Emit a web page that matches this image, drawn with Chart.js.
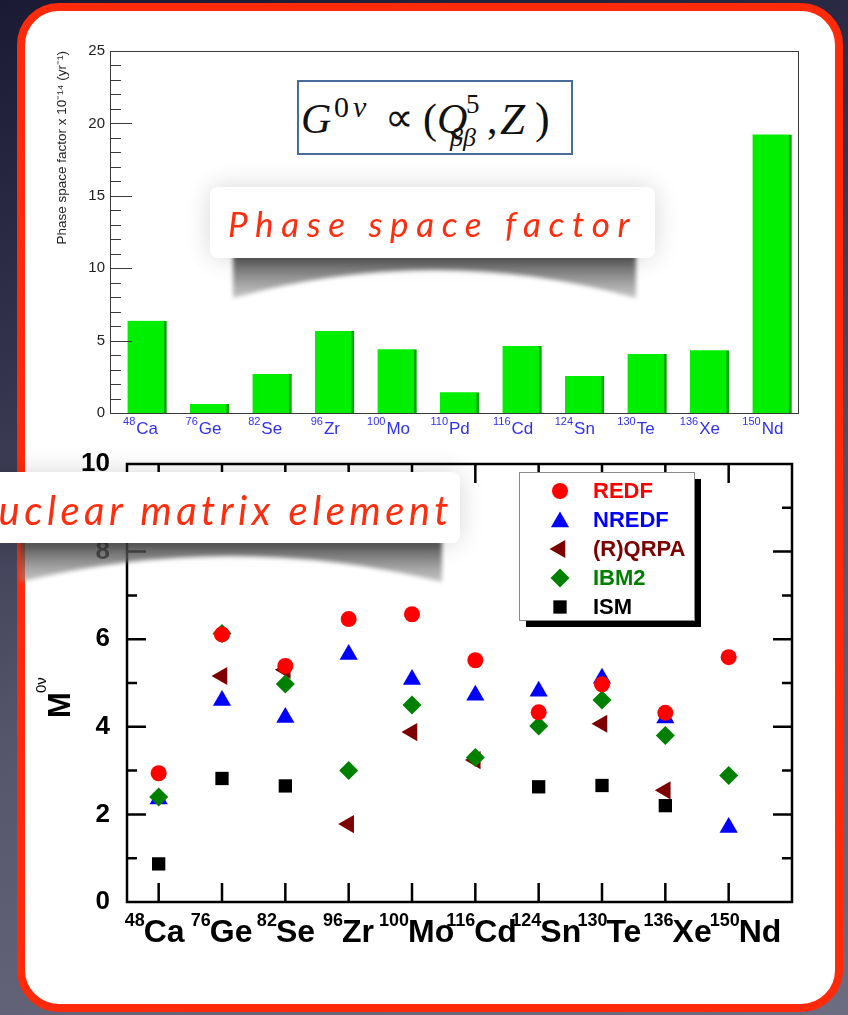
<!DOCTYPE html>
<html>
<head>
<meta charset="utf-8">
<title>Phase space factor and nuclear matrix element</title>
<script src="https://cdn.jsdelivr.net/npm/chart.js@4.4.1/dist/chart.umd.min.js"></script>
<style>
  html, body { margin: 0; padding: 0; }
  body {
    width: 848px; height: 1015px; position: relative; overflow: hidden;
    background: linear-gradient(165deg, #1a1a34 0%, #33334d 30%, #55556b 60%, #6d6d82 100%);
    font-family: "Liberation Sans", Arial, sans-serif;
  }
  .layer { position: absolute; left: 0; top: 0; }
  #frame {
    position: absolute; left: 17px; top: 3px; width: 810px; height: 993px;
    border: 8px solid #ff2a0a; border-radius: 42px; background: #fff;
  }
  #formula {
    position: absolute; left: 297px; top: 80px; width: 276px; height: 75px; box-sizing: border-box;
    border: 2px solid #4a6c9c; background: #fff; z-index: 4;
    font-family: "Liberation Serif", "Times New Roman", serif; color: #111;
  }
  #formula span { position: absolute; line-height: 1; white-space: nowrap; }
  #formula .it { font-style: italic; }
  .hand {
    position: absolute; z-index: 4; white-space: nowrap; line-height: 1;
    font-family: Lato, "Open Sans", sans-serif; font-style: italic; font-weight: 400; color: #ff2d0d;
  }
</style>
</head>
<body>
<div id="frame"></div>
<canvas id="topChart" class="layer" width="848" height="1015" style="z-index:1"></canvas>
<canvas id="nmeChart" class="layer" width="848" height="1015" style="z-index:2"></canvas>
<canvas id="deco" class="layer" width="848" height="1015" style="z-index:3"></canvas>

<div id="formula">
  <span class="it" style="left:2px;top:16px;font-size:42px">G</span>
  <span style="left:35px;top:10px;font-size:30px;letter-spacing:4px">0<i>ν</i></span>
  <span style="left:86px;top:16px;font-size:40px">∝</span>
  <span style="left:124px;top:16px;font-size:42px">(</span>
  <span class="it" style="left:138px;top:16px;font-size:42px">Q</span>
  <span style="left:167px;top:9px;font-size:27px">5</span>
  <span class="it" style="left:151px;top:43px;font-size:26px">ββ</span>
  <span style="left:188px;top:16px;font-size:42px">,</span>
  <span class="it" style="left:201px;top:15px;font-size:45px">Z</span>
  <span style="left:236px;top:15px;font-size:44px">)</span>
</div>

<div class="hand" data-w="409" style="left:228px;top:206px;font-size:35px">Phase space factor</div>
<div class="hand" data-w="487" style="left:-34px;top:490px;font-size:40px">Nuclear matrix element</div>

<script>
// phase space factor (x 10^-14 yr^-1)
const topMass = ['48', '76', '82', '96', '100', '110', '116', '124', '130', '136', '150'];
const topElem = ['Ca', 'Ge', 'Se', 'Zr', 'Mo', 'Pd', 'Cd', 'Sn', 'Te', 'Xe', 'Nd'];
const phaseFactor = [6.37, 0.62, 2.69, 5.66, 4.41, 1.43, 4.62, 2.55, 4.07, 4.34, 19.24];
const phaseTicks = [0, 5, 10, 15, 20, 25];

// nuclear matrix elements M^0v
const nmeMass = ['48', '76', '82', '96', '100', '116', '124', '130', '136', '150'];
const nmeElem = ['Ca', 'Ge', 'Se', 'Zr', 'Mo', 'Cd', 'Sn', 'Te', 'Xe', 'Nd'];
const redf  = [2.94, 6.11, 5.39, 6.46, 6.57, 5.52, 4.33, 4.97, 4.32, 5.59];
const nredf = [2.35, 4.60, 4.21, 5.65, 5.08, 4.72, 4.81, 5.11, 4.20, 1.70];
const qrpa  = [null, 5.16, 5.30, 1.78, 3.88, 3.24, null, 4.07, 2.55, null];
const ibm2  = [2.40, 6.13, 4.98, 3.00, 4.50, 3.30, 4.02, 4.61, 3.80, 2.89];
const ism   = [0.87, 2.82, 2.65, null, null, null, 2.63, 2.66, 2.20, null];

const series = [
  { label: 'REDF',    values: redf,  color: '#ff0000', style: 'circle',   radius: 8,    rotation: 0,   order: 0 },
  { label: 'NREDF',   values: nredf, color: '#0000ff', style: 'triangle', radius: 10.5, rotation: 0,   order: 4 },
  { label: '(R)QRPA', values: qrpa,  color: '#7d0000', style: 'triangle', radius: 10.5, rotation: -90, order: 3 },
  { label: 'IBM2',    values: ibm2,  color: '#008000', style: 'rectRot',  radius: 9.5,  rotation: 0,   order: 1 },
  { label: 'ISM',     values: ism,   color: '#000000', style: 'rect',     radius: 9.4,  rotation: 0,   order: 2 },
];

const SANS = '"Liberation Sans", Arial, sans-serif';

const topFrame = {
  id: 'topFrame',
  afterDraw(chart) {
    const { ctx, chartArea: a, scales } = chart;
    ctx.save();
    ctx.strokeStyle = '#3a3a3a';
    ctx.lineWidth = 1;
    ctx.strokeRect(a.left + 0.5, a.top + 0.5, a.right - a.left, a.bottom - a.top);
    ctx.beginPath();
    for (let v = 0; v <= 25; v++) {
      const py = Math.round(scales.y.getPixelForValue(v)) + 0.5;
      ctx.moveTo(a.left, py);
      ctx.lineTo(a.left + (v % 5 ? 11 : 22), py);
    }
    ctx.stroke();
    ctx.fillStyle = '#3030f0';
    topElem.forEach((el, i) => {
      const cx = scales.xc.getPixelForValue(i);
      ctx.font = '11px ' + SANS;
      ctx.textAlign = 'right';
      ctx.fillText(topMass[i], cx - 6, 425);
      ctx.font = '17px ' + SANS;
      ctx.textAlign = 'left';
      ctx.fillText(el, cx - 5, 434);
    });
    ctx.restore();
  },
};

new Chart(document.getElementById('topChart'), {
  type: 'bar',
  data: {
    labels: topElem,
    datasets: [{
      data: phaseFactor.map((v, i) => ({ x: i, y: v })),
      xAxisID: 'x',
      yAxisID: 'y',
      backgroundColor: '#00ee00',
      borderColor: '#00a800',
      borderWidth: { left: 0, top: 0, right: 3, bottom: 0 },
      borderSkipped: false,
      barThickness: 39,
    }],
  },
  options: {
    responsive: false,
    animation: false,
    devicePixelRatio: 1,
    layout: { padding: { left: 50, right: 50, top: 51, bottom: 602 } },
    plugins: { legend: { display: false }, tooltip: { enabled: false } },
    scales: {
      x: { type: 'linear', min: -0.592, max: 10.416, offset: false, display: false },
      xc: { type: 'category', offset: true, display: false },
      y: {
        min: 0, max: 25,
        afterBuildTicks: (s) => { s.ticks = phaseTicks.map((v) => ({ value: v })); },
        afterFit: (s) => { s.width = 60; },
        grid: { display: false, drawTicks: false },
        border: { display: false },
        ticks: { padding: 5, color: '#222', font: { family: SANS, size: 15 } },
        title: {
          display: true, align: 'end', color: '#222',
          text: 'Phase space factor x 10⁻¹⁴ (yr⁻¹)',
          font: { family: SANS, size: 13.5 },
        },
      },
    },
  },
  plugins: [topFrame],
});

function drawMarker(ctx, s, x, y) {
  const r = s.radius;
  ctx.beginPath();
  if (s.style === 'circle') {
    ctx.arc(x, y, r, 0, Math.PI * 2);
  } else if (s.style === 'triangle') {
    let rad = s.rotation * Math.PI / 180;
    for (let k = 0; k < 3; k++) {
      const px = x + Math.sin(rad) * r, py = y - Math.cos(rad) * r;
      k ? ctx.lineTo(px, py) : ctx.moveTo(px, py);
      rad += 2 * Math.PI / 3;
    }
  } else if (s.style === 'rectRot') {
    ctx.moveTo(x - r, y); ctx.lineTo(x, y - r); ctx.lineTo(x + r, y); ctx.lineTo(x, y + r);
  } else {
    const h = r * Math.SQRT1_2;
    ctx.rect(x - h, y - h, 2 * h, 2 * h);
  }
  ctx.closePath();
  ctx.fillStyle = s.color;
  ctx.fill();
}

const nmeFrame = {
  id: 'nmeFrame',
  afterDraw(chart) {
    const { ctx, chartArea: a, scales: { x, y } } = chart;
    ctx.save();
    ctx.strokeStyle = '#000';
    ctx.lineWidth = 2.5;
    ctx.strokeRect(a.left, a.top, a.right - a.left, a.bottom - a.top);
    ctx.beginPath();
    nmeElem.forEach((el, i) => {
      const px = x.getPixelForValue(i);
      ctx.moveTo(px, a.bottom); ctx.lineTo(px, a.bottom - 19);
      ctx.moveTo(px, a.top); ctx.lineTo(px, a.top + 19);
    });
    for (let v = 1; v < 10; v++) {
      const py = y.getPixelForValue(v);
      const len = v % 2 ? 10 : 19;
      ctx.moveTo(a.left, py); ctx.lineTo(a.left + len, py);
      ctx.moveTo(a.right, py); ctx.lineTo(a.right - len, py);
    }
    ctx.stroke();

    // isotope labels
    const x0 = x.getPixelForValue(0) - 15;
    const x9 = x.getPixelForValue(nmeElem.length - 1) + 10;
    ctx.fillStyle = '#000';
    nmeElem.forEach((el, i) => {
      const lx = x0 + (x9 - x0) * i / (nmeElem.length - 1);
      ctx.font = 'bold 18px ' + SANS;
      ctx.textAlign = 'right';
      ctx.fillText(nmeMass[i], lx + 1, 926);
      ctx.font = 'bold 32px ' + SANS;
      ctx.textAlign = 'left';
      ctx.fillText(el, lx, 942);
    });

    // y title M^0v
    ctx.save();
    ctx.translate(58, 706);
    ctx.rotate(-Math.PI / 2);
    ctx.textAlign = 'left';
    ctx.font = 'bold 31px ' + SANS;
    ctx.fillText('M', -12, 12);
    ctx.font = '15px ' + SANS;
    ctx.fillText('0ν', 13, -12);
    ctx.restore();

    // legend
    const lx = 519, ly = 472, lw = 175, lh = 148;
    ctx.fillStyle = '#000';
    ctx.fillRect(lx + 7, ly + 7, lw, lh);
    ctx.fillStyle = '#fff';
    ctx.fillRect(lx, ly, lw, lh);
    ctx.strokeStyle = '#8a8a8a';
    ctx.lineWidth = 1;
    ctx.strokeRect(lx + 0.5, ly + 0.5, lw, lh);
    ctx.font = 'bold 22px ' + SANS;
    ctx.textBaseline = 'middle';
    series.forEach((s, k) => {
      const ry = 491 + 29 * k;
      drawMarker(ctx, s, 560, ry + (s.style === 'triangle' && !s.rotation ? 2 : 0));
      ctx.fillStyle = s.color;
      ctx.fillText(s.label, 593, ry + 1);
    });
    ctx.restore();
  },
};

new Chart(document.getElementById('nmeChart'), {
  type: 'scatter',
  data: {
    datasets: series.map((s) => ({
      label: s.label,
      data: s.values.map((v, i) => (v == null ? null : { x: i, y: v })).filter(Boolean),
      pointStyle: s.style,
      pointRadius: s.radius,
      pointRotation: s.rotation,
      backgroundColor: s.color,
      borderWidth: 0,
      order: s.order,
    })),
  },
  options: {
    responsive: false,
    animation: false,
    devicePixelRatio: 1,
    layout: { padding: { left: 27, right: 56, top: 464, bottom: 113 } },
    plugins: { legend: { display: false }, tooltip: { enabled: false } },
    scales: {
      x: { type: 'linear', min: -0.5, max: 10, display: false },
      y: {
        min: 0, max: 10,
        afterFit: (s) => { s.width = 100; },
        grid: { display: false, drawTicks: false },
        border: { display: false },
        ticks: { stepSize: 2, padding: 17, color: '#000', font: { family: SANS, size: 26, weight: 'bold' } },
      },
    },
  },
  plugins: [nmeFrame],
});

// decorations: torn paper labels with shadows
const dc = document.getElementById('deco').getContext('2d');

function smudge(x1, x2, top, endDepth, midDepth) {
  dc.save();
  dc.filter = 'blur(2px)';
  const g = dc.createLinearGradient(0, top, 0, top + endDepth);
  g.addColorStop(0, 'rgba(55,55,55,0.9)');
  g.addColorStop(1, 'rgba(150,150,150,0.55)');
  dc.fillStyle = g;
  dc.beginPath();
  dc.moveTo(x1, top);
  dc.lineTo(x2, top);
  dc.lineTo(x2, top + endDepth);
  dc.quadraticCurveTo((x1 + x2) / 2, top + 2 * midDepth - endDepth, x1, top + endDepth);
  dc.closePath();
  dc.fill();
  dc.restore();
}

function paper(x, y, w, h) {
  dc.save();
  dc.shadowColor = 'rgba(0,0,0,0.16)';
  dc.shadowBlur = 26;
  dc.fillStyle = '#fff';
  dc.beginPath();
  dc.roundRect(x, y, w, h, 8);
  dc.fill();
  dc.restore();
}

smudge(233, 636, 254, 44, 16);
paper(210, 187, 445, 71);
smudge(20, 442, 540, 42, 16);
paper(-10, 472, 470, 71);

document.querySelectorAll('.hand').forEach((el) => {
  const target = +el.dataset.w;
  const w = el.getBoundingClientRect().width;
  el.style.letterSpacing = ((target - w) / el.textContent.length) + 'px';
});
</script>
</body>
</html>
